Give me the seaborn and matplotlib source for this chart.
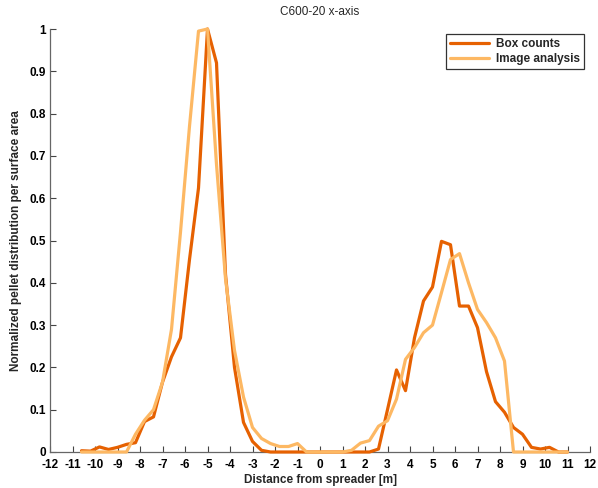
import numpy as np
import pandas as pd
import matplotlib
matplotlib.use("Agg")
import matplotlib.pyplot as plt
import seaborn as sns

x_vals = [-10.6, -10.2, -9.8, -9.4, -9.0, -8.6, -8.2, -7.8, -7.4, -7.0, -6.6, -6.2, -5.8, -5.4,
          -5.0, -4.6, -4.2, -3.8, -3.4, -3.0, -2.6, -2.2, -1.8, -1.4, -1.0, -0.6, -0.2, 0.2,
          0.6, 1.0, 1.4, 1.8, 2.2, 2.6, 3.0, 3.4, 3.8, 4.2, 4.6, 5.0, 5.4, 5.8, 6.2, 6.6,
          7.0, 7.4, 7.8, 8.2, 8.6, 9.0, 9.4, 9.8, 10.2, 10.6, 11.0]

box_counts = [0.003, 0.002, 0.012, 0.006, 0.011, 0.018, 0.022, 0.072, 0.083, 0.165, 0.225,
              0.27, 0.455, 0.624, 1.0, 0.92, 0.42, 0.20, 0.07, 0.025, 0.004,
              0, 0, 0, 0, 0, 0, 0, 0, 0, 0, 0, 0,
              0.007, 0.10, 0.194, 0.145, 0.27, 0.357, 0.39, 0.498, 0.49, 0.345, 0.345,
              0.294, 0.19, 0.119, 0.094, 0.058, 0.042, 0.011, 0.007, 0.011, 0.0, 0.0]

image_analysis = [0, 0, 0, 0, 0, 0, 0.042, 0.075, 0.10, 0.165, 0.29, 0.52, 0.77, 0.995,
                  1.0, 0.68, 0.41, 0.24, 0.13, 0.058, 0.032, 0.02, 0.013, 0.013, 0.02, 0,
                  0, 0, 0, 0,
                  0.004, 0.021, 0.027, 0.061, 0.074, 0.125, 0.219, 0.247, 0.282, 0.30,
                  0.377, 0.455, 0.469, 0.40, 0.337, 0.306, 0.27, 0.215,
                  0, 0, 0, 0, 0, 0, 0]

series_names = ["Box counts", "Image analysis"]
series_colors = ["#E66101", "#FDB863"]
x_ticks = list(range(-12, 13))
y_ticks = [0, 0.1, 0.2, 0.3, 0.4, 0.5, 0.6, 0.7, 0.8, 0.9, 1.0]
y_tick_labels = ["0", "0.1", "0.2", "0.3", "0.4", "0.5", "0.6", "0.7", "0.8", "0.9", "1"]

df = pd.DataFrame({
    "x": x_vals * 2,
    "y": box_counts + image_analysis,
    "series": [series_names[0]] * len(x_vals) + [series_names[1]] * len(x_vals),
})

sns.set_style("ticks")
plt.rcParams['font.family'] = ['Liberation Sans', 'DejaVu Sans']

fig = plt.figure(figsize=(5.98, 4.88), dpi=100)
ax = fig.add_axes([50 / 598, 36 / 488, 540 / 598, 423 / 488])

sns.lineplot(data=df, x="x", y="y", hue="series", palette=series_colors,
             hue_order=series_names, linewidth=2.3, ax=ax, estimator=None,
             sort=False, clip_on=False, zorder=5)

ax.set_xlim(-12, 12)
ax.set_ylim(0, 1)
ax.set_xticks(x_ticks)
ax.set_xticklabels([str(t) for t in x_ticks], fontsize=8.5, fontweight="bold")
ax.set_yticks(y_ticks)
ax.set_yticklabels(y_tick_labels, fontsize=8.5, fontweight="bold")
ax.tick_params(direction="in", length=4, width=0.8, colors="#444444", labelcolor="black")
ax.tick_params(axis="x", pad=5)
ax.tick_params(axis="y", pad=3)

for s in ["top", "right"]:
    ax.spines[s].set_visible(False)
for s in ["left", "bottom"]:
    ax.spines[s].set_color("#666666")
    ax.spines[s].set_linewidth(0.9)

ax.set_xlabel("Distance from spreader [m]", fontsize=8.5, fontweight="bold", labelpad=2)
ax.set_ylabel("Normalized pellet distribution per surface area", fontsize=8.5,
              fontweight="bold", labelpad=5)
ax.set_title("C600-20 x-axis", fontsize=8.5, pad=10)

leg = ax.legend(loc="upper right", fontsize=8.5, frameon=True, fancybox=False,
                edgecolor="black", handlelength=3.3, borderpad=0.35, labelspacing=0.25,
                handletextpad=0.6, borderaxespad=0,
                bbox_to_anchor=(1 - 6 / 540, 1 - 5 / 423))
leg.get_frame().set_linewidth(0.9)
for t in leg.get_texts():
    t.set_fontweight("bold")
for h in leg.get_lines():
    h.set_linewidth(2.3)

fig.savefig("out.png", dpi=100)
